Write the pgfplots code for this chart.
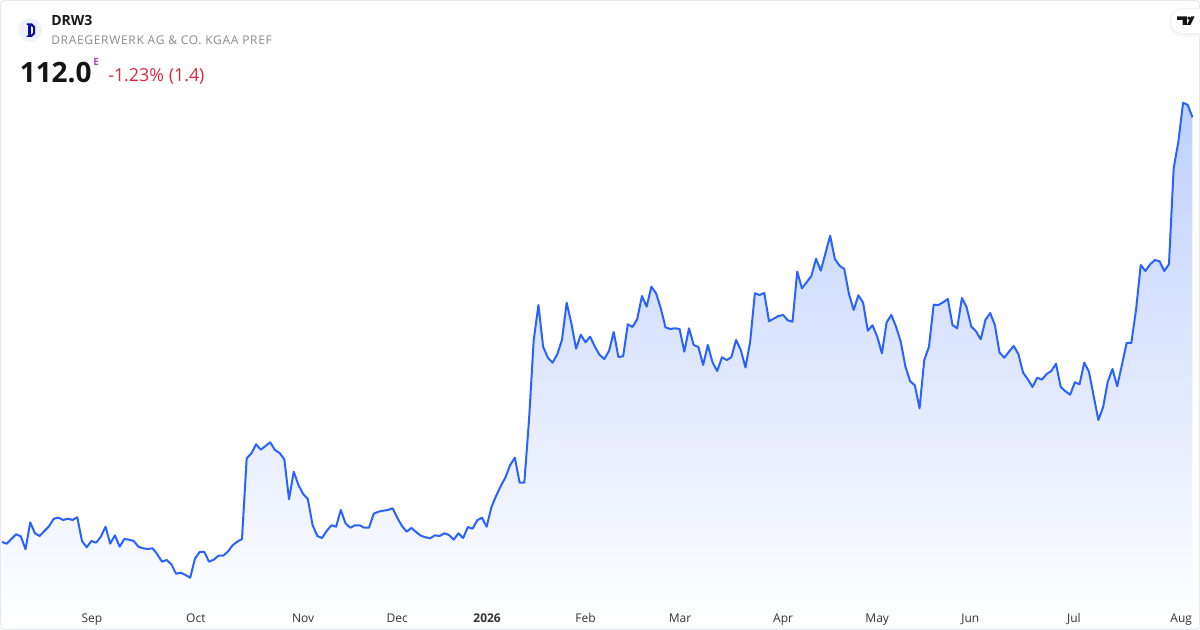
\documentclass[border=0pt]{standalone}
\usepackage{pgfplots}
\pgfplotsset{compat=1.18}
\usepackage{pgfplotstable}
\usepackage{fontspec}
\setmainfont{Open Sans}
\newfontfamily\spaced[LetterSpace=5.7]{Open Sans}
\definecolor{linecol}{HTML}{2962FF}
\definecolor{topfill}{HTML}{BFD0FF}
\definecolor{framecol}{HTML}{E6E8EE}
\definecolor{ticktxt}{HTML}{333333}
\definecolor{subtxt}{HTML}{8A8A8A}
\definecolor{redtxt}{HTML}{D9283F}
\definecolor{purp}{HTML}{AB47BC}
\definecolor{navy}{HTML}{0A0F9E}
\definecolor{logobg}{HTML}{EEF2FB}
\pgfplotstableread{
i v
0 88
1 86.3
2 91
3 95.7
4 93.7
5 80.7
6 107.7
7 96.7
8 94
9 99
10 103.7
11 111.3
12 112.3
13 110
14 111.3
15 110
16 112.7
17 89
18 82.7
19 89
20 87.3
21 93.3
22 103.3
23 86.3
24 94.7
25 83.3
26 91
27 90.3
28 89
29 83.3
30 81.7
31 81
32 81.7
33 75.7
34 68.3
35 70
36 65.7
37 56.3
38 57.3
39 55
40 52.3
41 71.3
42 78
43 78
44 68.3
45 70.3
46 74.3
47 74.3
48 78.3
49 84.7
50 88.3
51 91
52 171.7
53 176.7
54 185.7
55 180.3
56 184
57 187.7
58 180
59 177
60 170.7
61 130.7
62 158.3
63 145
64 136
65 131
66 105
67 94
68 92
69 99
70 104.7
71 103.3
72 120
73 106.7
74 102.3
75 104.7
76 104.7
77 102.3
78 102.3
79 116.3
80 118.3
81 119.3
82 120
83 121.7
84 112.3
85 104
86 98.3
87 102
88 98
89 94.3
90 92.7
91 91.7
92 94.7
93 94
94 96.7
95 95
96 90.3
97 96.7
98 92
99 103
100 101.3
101 109.7
102 112.3
103 103.3
104 122.7
105 134
106 144
107 152.7
108 165
109 172.3
110 147.3
111 147.3
112 210
113 290
114 325
115 283.3
116 272.3
117 267.3
118 275.7
119 290
120 327.3
121 306.7
122 281.3
123 295.3
124 287.7
125 293.3
126 283.3
127 275
128 271
129 279
130 298
131 273
132 273.7
133 305.7
134 303
135 311
136 334
137 323.3
138 343.3
139 336.7
140 321.7
141 302.7
142 301
143 301.7
144 301
145 278.3
146 301.7
147 285
148 283
149 265
150 285
151 267.7
152 259
153 272.7
154 270
155 272.7
156 290
157 280
158 262.5
159 288.3
160 336.7
161 335
162 337
163 308.7
164 311.3
165 314
166 315
167 309.7
168 308.3
169 358.3
170 341.7
171 347.7
172 354
173 371.3
174 359.3
175 376.7
176 394.3
177 371
178 364.3
179 361
180 336
181 320
182 334.7
183 327.3
184 299.3
185 304.7
186 293.3
187 276.7
188 307.7
189 315
190 303.3
191 288.3
192 263.3
193 248.7
194 244.7
195 221.7
196 270
197 283.3
198 325.3
199 325
200 327.7
201 331
202 305
203 301.7
204 332
205 322.7
206 303.3
207 298.7
208 290.7
209 310
210 317
211 305
212 277.3
213 272.3
214 278.3
215 284
216 276
217 257.3
218 250.7
219 243
220 252.3
221 250.3
222 256
223 259
224 266.3
225 243
226 238.7
227 235.3
228 247.7
229 245.7
230 267.3
231 258.3
232 234
233 210
234 222.7
235 248.3
236 261
237 243.7
238 265
239 287
240 287
241 320
242 365
243 359
244 365.7
245 370
246 368.7
247 359
248 365.7
249 461.7
250 488.3
251 527.3
252 525
253 512.7
}\pricetable
\begin{document}
\begin{tikzpicture}
\path[use as bounding box] (0,0) rectangle (900pt,472.5pt);
\begin{axis}[
  at={(0,0)}, anchor=south west,
  scale only axis, width=900pt, height=472.5pt,
  xmin=-0.425, xmax=254.6, ymin=0, ymax=630,
  axis line style={draw=none},
  axis on top=true,
  ytick=\empty,
  xtick={19.1,41.2,64,84,103.1,124,144.1,166,186,205.8,227.8,250.6},
  xticklabels={Sep,Oct,Nov,Dec,\textbf{2026},Feb,Mar,Apr,May,Jun,Jul,Aug},
  major tick length=0pt,
  xticklabel style={font=\fontsize{9}{11}\selectfont, text=ticktxt, yshift=5.75pt, anchor=base, text height=6.5pt},
  clip=true,
]
\addplot[draw=none, fill=none, top color=topfill, bottom color=white, forget plot] table[x=i,y=v] {\pricetable} \closedcycle;
\addplot[color=linecol, line width=1.5pt, line join=round, no markers] table[x=i,y=v] {\pricetable};
\end{axis}
\begin{scope}[x=0.75pt,y=-0.75pt,yshift=472.5pt]
  \draw[framecol, line width=0.75pt, rounded corners=3pt] (0.5,0.5) rectangle (1199.5,629.5);
  % logo
  \fill[logobg] (30,30) circle (12);
  \fill[navy] (26.7,23.5) -- (32,23.5) -- (35,26.5) -- (35,34) -- (32,37) -- (26.7,37) -- (26.7,35.6) -- (28,35.6) -- (28,25) -- (26.7,25) -- cycle;
  \fill[logobg] (31,26) -- (32.8,27.5) -- (32.8,33) -- (31,34.6) -- cycle;
  % header text
  \node[anchor=base west, inner sep=0, text=black!90] at (51,26) {\fontsize{10.5}{12}\selectfont\bfseries DRW3};
  \node[anchor=base west, inner sep=0, text=subtxt] at (51,45) {\fontsize{9}{11}\selectfont\spaced DRAEGERWERK AG \& CO. KGAA PREF};
  \node[anchor=base west, inner sep=0, text=black!92] at (19.5,82.5) {\fontsize{21}{24}\selectfont\bfseries 112.0};
  \node[anchor=base west, inner sep=0, text=purp] at (93,66) {\fontsize{7.5}{9}\selectfont\bfseries E};
  \node[anchor=base west, inner sep=0, text=redtxt] at (108,81.5) {\fontsize{13.4}{15}\selectfont -1.23\% (1.4)};
  % TradingView tab
  \fill[black!3, rounded corners=10pt] (1210,8) -- (1169,8) -- (1169,37) -- (1210,37) -- cycle;
  \fill[black!5, rounded corners=9.5pt] (1210,8.5) -- (1170,8.5) -- (1170,35) -- (1210,35) -- cycle;
  \fill[white, rounded corners=9pt] (1210,9) -- (1171,9) -- (1171,33) -- (1210,33) -- cycle;
  \fill[black!92] (1177,16.5) -- (1187,16.5) -- (1187,25) -- (1182.5,25) -- (1182.5,20) -- (1177,20) -- cycle;
  \fill[black!92] (1189,18.2) circle (1.7);
  \fill[black!92] (1190.5,25) -- (1194.5,16.5) -- (1191,16.5) -- (1187,25) -- cycle;
\end{scope}
\end{tikzpicture}
\end{document}
